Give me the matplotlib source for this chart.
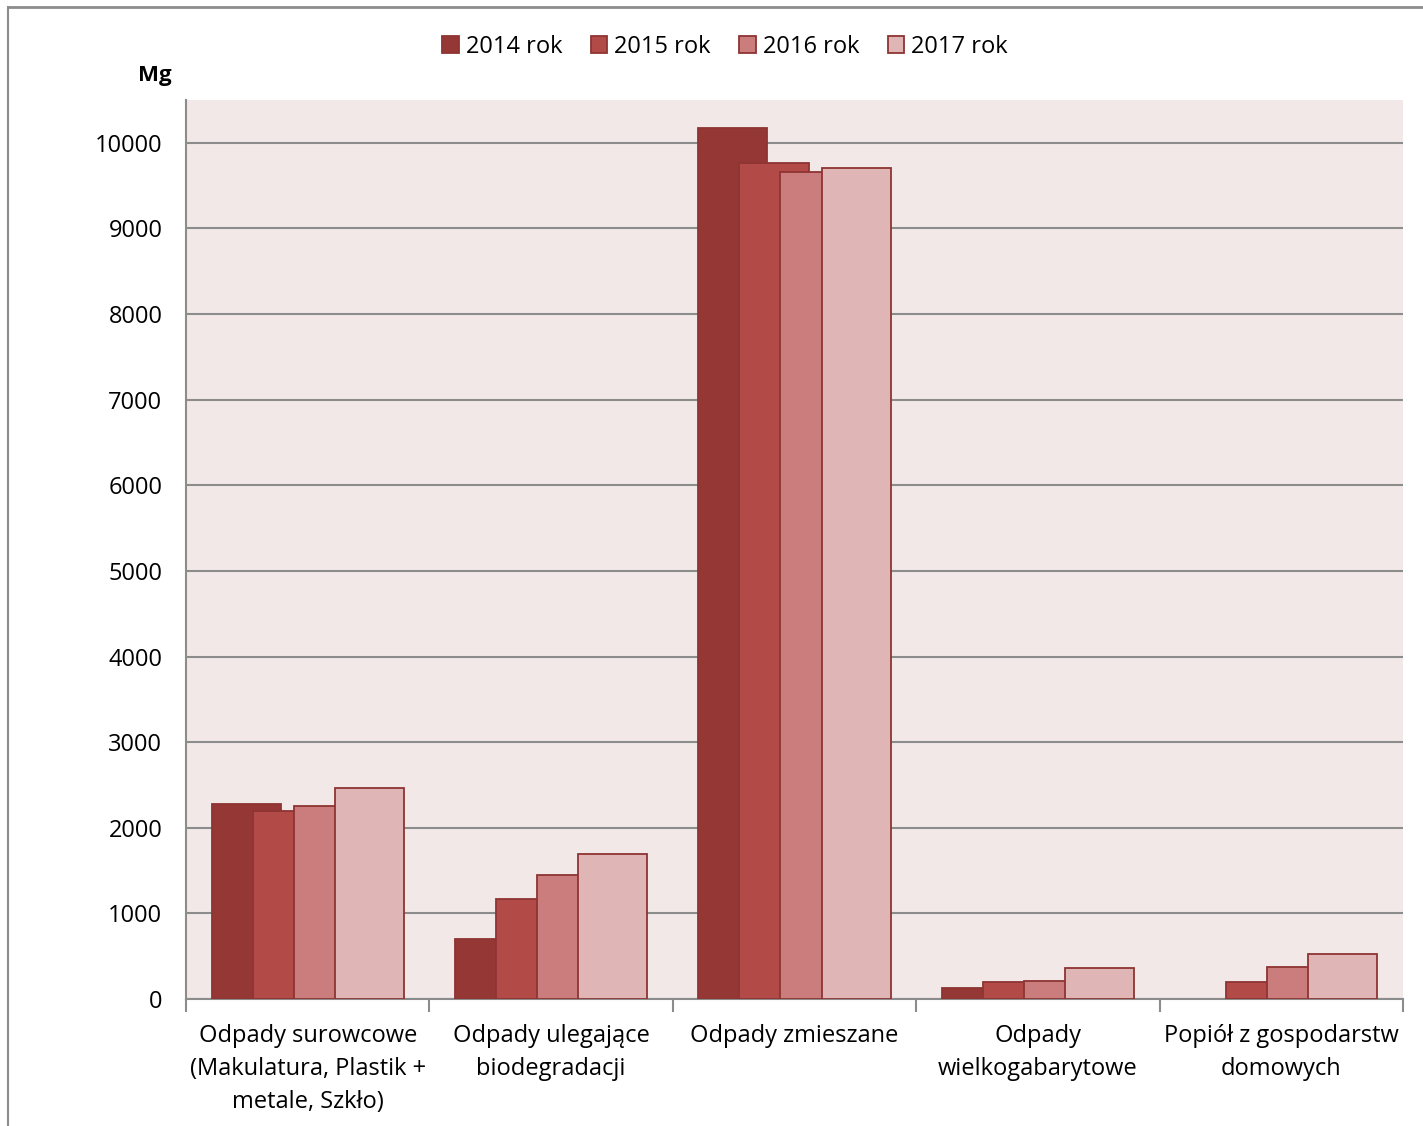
import numpy as np
import matplotlib.pyplot as plt
from matplotlib.lines import Line2D

# data (Mg)
categories = ["Odpady surowcowe\n(Makulatura, Plastik +\nmetale, Szkło)",
              "Odpady ulegające\nbiodegradacji",
              "Odpady zmieszane",
              "Odpady\nwielkogabarytowe",
              "Popiół z gospodarstw\ndomowych"]
years = ["2014 rok", "2015 rok", "2016 rok", "2017 rok"]
v2014 = [2280, 700, 10175, 130, 0]
v2015 = [2200, 1170, 9765, 200, 200]
v2016 = [2250, 1450, 9660, 210, 375]
v2017 = [2470, 1695, 9710, 360, 525]
series = [v2014, v2015, v2016, v2017]

colors = ["#953735", "#B24A48", "#CA7D7C", "#DFB5B5"]
edge = "#8E3432"

plt.rcParams['font.family'] = ['Open Sans', 'DejaVu Sans']

fig = plt.figure(figsize=(14.23, 11.26), dpi=100)
ax = fig.add_axes([186/1423, 1 - 999/1126, 1217/1423, 899/1126])
ax.set_facecolor("#F2E8E8")

x = np.arange(len(categories))
offsets = [-0.253, -0.084, 0.084, 0.253]
width = 0.284
for i in range(4):
    bars = ax.bar(x + offsets[i], series[i], width=width, color=colors[i],
                  edgecolor=edge, linewidth=1.3, label=years[i], zorder=3 + i)
    # zero values draw no outline
    for b, v in zip(bars, series[i]):
        if v == 0:
            b.set_linewidth(0)

ax.set_xlim(-0.5, 4.5)
ax.set_ylim(0, 10500)
ax.set_yticks(range(0, 10001, 1000))
ax.yaxis.grid(True, color="#8C8C8C", linewidth=1.5, zorder=1)
ax.set_axisbelow(True)
ax.tick_params(axis='y', length=0, labelsize=17, pad=17)

ax.set_xticks(x)
ax.set_xticklabels(categories, fontsize=17, linespacing=1.5)
ax.tick_params(axis='x', length=0, pad=18)
ax.set_xticks(np.arange(-0.5, 5, 1), minor=True)
ax.tick_params(axis='x', which='minor', length=9, width=1.5, color="#8C8C8C")

for s in ["top", "right"]:
    ax.spines[s].set_visible(False)
for s in ["left", "bottom"]:
    ax.spines[s].set_color("#8C8C8C")
    ax.spines[s].set_linewidth(1.5)

fig.text(155/1423, 1 - 75/1126, "Mg", fontsize=16, fontweight="bold",
         ha="center", va="center")

fig.legend(loc="center", bbox_to_anchor=(725/1423, 1 - 47/1126), ncol=4,
           frameon=False, fontsize=17, handlelength=0.7, handleheight=0.7,
           handletextpad=0.3, columnspacing=1.2)

# outer frame lines
fig.add_artist(Line2D([8/1423, 1], [1 - 7/1126, 1 - 7/1126], color="#8C8C8C", linewidth=2))
fig.add_artist(Line2D([8/1423, 8/1423], [0, 1 - 7/1126], color="#8C8C8C", linewidth=1.5))

fig.savefig("out.png", dpi=100)
